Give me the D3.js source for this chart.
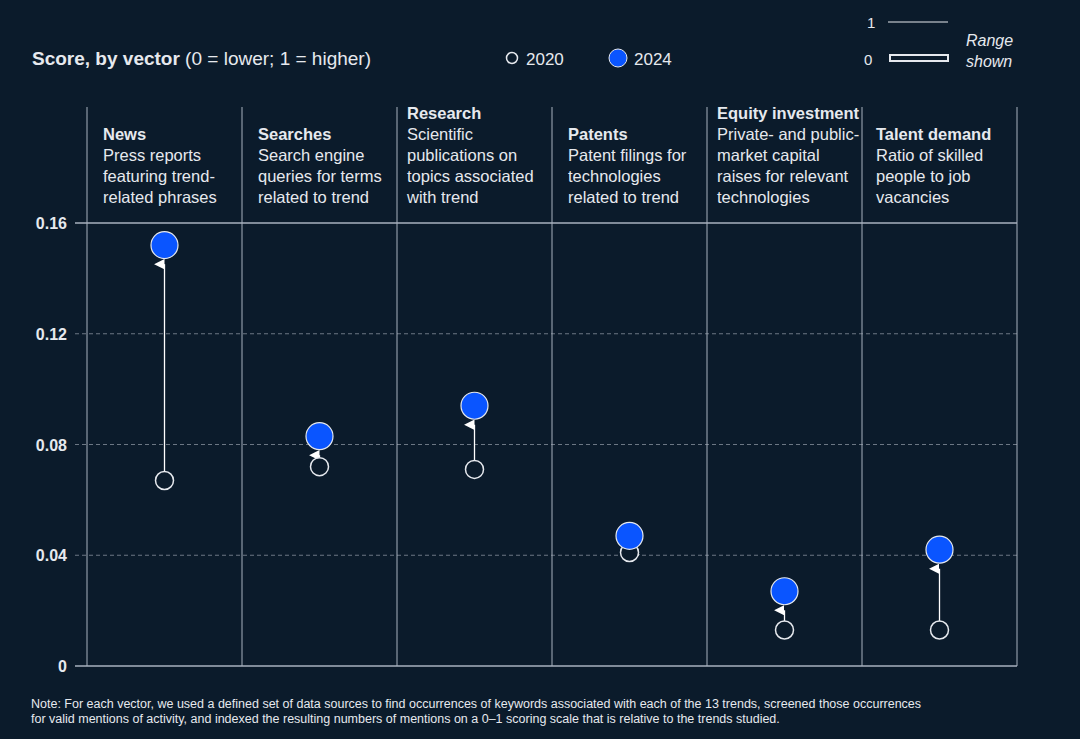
<!DOCTYPE html>
<html>
<head>
<meta charset="utf-8">
<script src="https://cdn.jsdelivr.net/npm/d3@7"></script>
<style>
body { margin: 0; background: #0b1b2b; }
text { font-family: "Liberation Sans", Arial, sans-serif; fill: #e6e9ee; }
</style>
</head>
<body>
<div id="main"></div>
<script>
const ctx = { w: 1080, h: 739 };

const vectors = ["News", "Searches", "Research", "Patents", "Equity investment", "Talent demand"];
const descriptions = [
    ["Press reports", "featuring trend-", "related phrases"],
    ["Search engine", "queries for terms", "related to trend"],
    ["Scientific", "publications on", "topics associated", "with trend"],
    ["Patent filings for", "technologies", "related to trend"],
    ["Private- and public-", "market capital", "raises for relevant", "technologies"],
    ["Ratio of skilled", "people to job", "vacancies"]
];
const score2020 = [0.067, 0.072, 0.071, 0.041, 0.013, 0.013];
const score2024 = [0.152, 0.083, 0.094, 0.047, 0.027, 0.042];
const yTicks = [0, 0.04, 0.08, 0.12, 0.16];
const noteLines = [
    "Note: For each vector, we used a defined set of data sources to find occurrences of keywords associated with each of the 13 trends, screened those occurrences",
    "for valid mentions of activity, and indexed the resulting numbers of mentions on a 0\u20131 scoring scale that is relative to the trends studied."
];

const x = d3.scaleBand().domain(vectors).range([87, 1017]);
const y = d3.scaleLinear().domain([0, 0.16]).range([666, 223]);

const svg = d3.select("#main").append("svg")
    .attr("width", ctx.w).attr("height", ctx.h);
svg.append("rect").attr("width", ctx.w).attr("height", ctx.h).attr("fill", "#0b1b2b");

// title + legend
const title = svg.append("text").attr("x", 32).attr("y", 65).style("font-size", "19px");
title.append("tspan").attr("font-weight", "bold").text("Score, by vector");
title.append("tspan").text(" (0 = lower; 1 = higher)");

svg.append("circle").attr("cx", 512).attr("cy", 58).attr("r", 5.5)
    .attr("fill", "none").attr("stroke", "#e6e9ee").attr("stroke-width", 1.5);
svg.append("text").attr("x", 526).attr("y", 65).style("font-size", "17px").text("2020");
svg.append("circle").attr("cx", 618).attr("cy", 58).attr("r", 9)
    .attr("fill", "#0a55ff").attr("stroke", "#e6e9ee").attr("stroke-width", 1);
svg.append("text").attr("x", 634).attr("y", 65).style("font-size", "17px").text("2024");

// range shown
svg.append("text").attr("x", 867).attr("y", 28).style("font-size", "15px").text("1");
svg.append("line").attr("x1", 888).attr("x2", 948).attr("y1", 22).attr("y2", 22)
    .attr("stroke", "#e6e9ee").attr("stroke-width", 1);
svg.append("text").attr("x", 864).attr("y", 65).style("font-size", "15px").text("0");
svg.append("rect").attr("x", 890).attr("y", 55).attr("width", 58).attr("height", 6)
    .attr("fill", "none").attr("stroke", "#e6e9ee").attr("stroke-width", 2);
svg.append("text").attr("x", 966).attr("y", 46).style("font-size", "16px").style("font-style", "italic").text("Range");
svg.append("text").attr("x", 966).attr("y", 67).style("font-size", "16px").style("font-style", "italic").text("shown");

// y grid + axis labels
svg.selectAll("line.grid").data(yTicks).join("line")
    .attr("class", "grid")
    .attr("x1", 75).attr("x2", 1017)
    .attr("y1", d => y(d)).attr("y2", d => y(d))
    .attr("stroke", d => (d === 0 || d === 0.16) ? "#a8b2bf" : "#6c7784")
    .attr("stroke-width", d => (d === 0 || d === 0.16) ? 1.3 : 1)
    .attr("stroke-dasharray", d => (d === 0 || d === 0.16) ? null : "4,3");
svg.selectAll("text.ytick").data(yTicks).join("text")
    .attr("class", "ytick")
    .attr("x", 67).attr("y", d => y(d) + 6)
    .attr("text-anchor", "end")
    .style("font-size", "16px").attr("font-weight", "bold")
    .text(d => d === 0 ? "0" : d3.format(".2f")(d));

// column separators
const seps = vectors.map(v => x(v)).concat([x.range()[1]]);
svg.selectAll("line.sep").data(seps).join("line")
    .attr("class", "sep")
    .attr("x1", d => d).attr("x2", d => d)
    .attr("y1", 107).attr("y2", y(0))
    .attr("stroke", "#a8b2bf").attr("stroke-width", 1);

// column headers, bottom aligned
const lh = 21;
vectors.forEach((v, i) => {
    const lines = descriptions[i];
    const bottom = 203;
    const x0 = x(v) + (i === 2 || i === 4 ? 10 : i === 5 ? 14 : 16);
    const top = bottom - lines.length * lh;
    svg.append("text").attr("x", x0).attr("y", top)
        .style("font-size", "16.5px").attr("font-weight", "bold").text(v);
    lines.forEach((l, j) => {
        svg.append("text").attr("x", x0).attr("y", top + (j + 1) * lh)
            .style("font-size", "16.5px").attr("fill", "#d8dde3").text(l);
    });
});

// arrows
svg.append("defs").append("marker")
    .attr("id", "arr").attr("viewBox", "0 0 10 10")
    .attr("refX", 5).attr("refY", 10)
    .attr("markerWidth", 8).attr("markerHeight", 8)
    .attr("orient", "auto-start-reverse")
    .append("path").attr("d", "M0,10 L5,0 L10,10 Z").attr("fill", "#ffffff");

const cx = v => x(v) + x.bandwidth() / 2;
const data = vectors.map((v, i) => ({ v: v, a: score2020[i], b: score2024[i] }));

svg.selectAll("line.arrow").data(data).join("line")
    .attr("class", "arrow")
    .attr("x1", d => cx(d.v)).attr("x2", d => cx(d.v))
    .attr("y1", d => y(d.a) - 9).attr("y2", d => y(d.b) + 19)
    .attr("stroke", "#ffffff").attr("stroke-width", 1.3)
    .attr("marker-end", "url(#arr)");

svg.selectAll("circle.c2020").data(data).join("circle")
    .attr("class", "c2020")
    .attr("cx", d => cx(d.v)).attr("cy", d => y(d.a)).attr("r", 9)
    .attr("fill", "#0b1b2b").attr("stroke", "#e6e9ee").attr("stroke-width", 1.5);

svg.selectAll("circle.c2024").data(data).join("circle")
    .attr("class", "c2024")
    .attr("cx", d => cx(d.v)).attr("cy", d => y(d.b)).attr("r", 13.5)
    .attr("fill", "#0a55ff").attr("stroke", "#e6e9ee").attr("stroke-width", 1.2);

// note
svg.selectAll("text.note").data(noteLines).join("text")
    .attr("class", "note")
    .attr("x", 31).attr("y", (d, i) => 708 + i * 15)
    .style("font-size", "12.5px").attr("fill", "#c4cad2")
    .text(d => d);
</script>
</body>
</html>
